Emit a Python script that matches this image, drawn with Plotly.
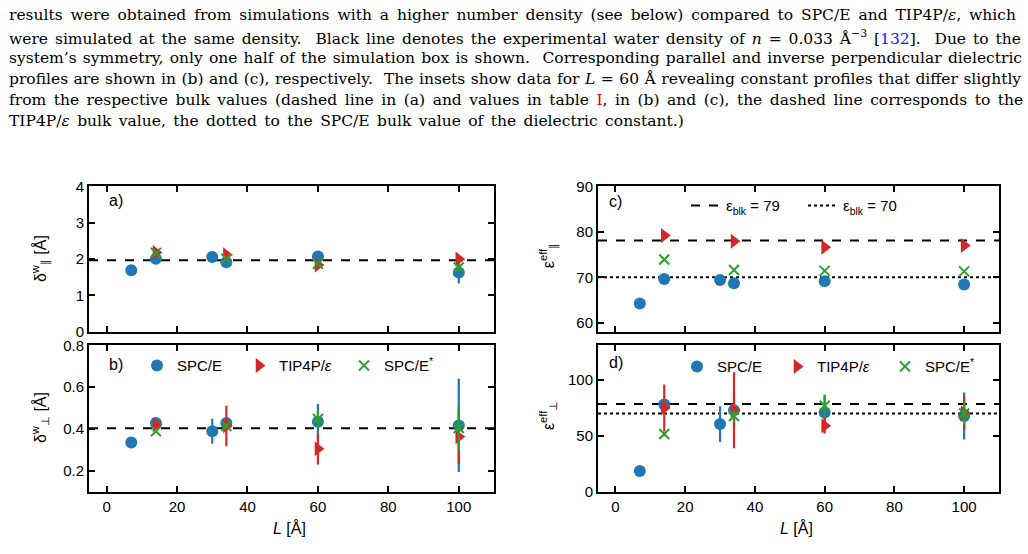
import plotly.graph_objects as go

# ---------------- data ----------------
L_spce = [7, 14, 30, 34, 60, 100]
L_tip = [14, 34, 60, 100]
L_star = [14, 34, 60, 100]

# (a) delta_par
a_spce = [1.69, 2.01, 2.06, 1.91, 2.07, 1.63]
a_spce_err = [0.03, 0.03, 0.03, 0.03, 0.03, 0.30]
a_tip = [2.18, 2.12, 1.84, 2.00]
a_tip_err = [0.03, 0.03, 0.03, 0.03]
a_star = [2.17, 2.01, 1.87, 1.77]
a_star_err = [0.03, 0.03, 0.03, 0.03]
a_ref = 1.97

# (b) delta_perp
b_spce = [0.335, 0.429, 0.389, 0.429, 0.435, 0.417]
b_spce_err = [0.005, 0.005, 0.06, 0.01, 0.085, 0.223]
b_tip = [0.42, 0.414, 0.305, 0.363]
b_tip_err = [0.005, 0.097, 0.075, 0.13]
b_star = [0.389, 0.414, 0.448, 0.405]
b_star_err = [0.005, 0.01, 0.04, 0.108]
b_ref = 0.403

# (c) eps_par
c_spce = [64.2, 69.6, 69.4, 68.7, 69.1, 68.4]
c_tip = [79.2, 77.9, 76.6, 77.0]
c_star = [73.9, 71.6, 71.4, 71.3]
c_ref_tip = 78.1
c_ref_spce = 70.0

# (d) eps_perp
d_spce = [18.6, 78.0, 60.6, 73.0, 71.0, 67.8]
d_spce_err = [1, 2, 16, 15, 15, 21]
d_tip = [75.0, 73.0, 59.0, 70.7]
d_tip_err = [21, 34, 7, 15]
d_star = [51.6, 67.8, 77.0, 70.0]
d_star_err = [2, 5, 10, 10]
d_ref_tip = 78.5
d_ref_spce = 70.0

series_names = ["SPC/E", "TIP4P/<i>ε</i>", "SPC/E<sup>*</sup>"]
legend_c_names = ["ε<sub>blk</sub> = 79", "ε<sub>blk</sub> = 70"]

BLUE = "#1f77b4"
RED = "#d62728"
GREEN = "#2ca02c"
SANS = "Liberation Sans, Arial, sans-serif"
SERIF = "DejaVu Serif, serif"

W, H = 1028, 554
X_RANGE = [-5, 110]


def px(x):
    return x / W


def py(y):
    return 1 - y / H


fig = go.Figure()


def hline(xa, ya, yv, dash, name=None, legend=None, show=False):
    fig.add_trace(go.Scatter(
        x=X_RANGE, y=[yv, yv], mode="lines", xaxis=xa, yaxis=ya,
        line=dict(color="black", width=2, dash=dash),
        name=name, showlegend=show, legend=legend, hoverinfo="skip"))


def series(xa, ya, xs, ys, errs, kind, show=False, legend=None):
    if kind == 0:
        marker = dict(symbol="circle", size=12, color=BLUE)
        col = BLUE
    elif kind == 1:
        marker = dict(symbol="triangle-right", size=13, color=RED)
        col = RED
    else:
        marker = dict(symbol="x-thin-open", size=10, color=GREEN,
                      line=dict(color=GREEN, width=2))
        col = GREEN
    err = None
    if errs is not None:
        err = dict(type="data", array=errs, visible=True, thickness=2.2,
                   width=0, color=col)
    fig.add_trace(go.Scatter(
        x=xs, y=ys, mode="markers", xaxis=xa, yaxis=ya, marker=marker,
        error_y=err, name=series_names[kind], showlegend=show,
        legend=legend))


# (a)
hline("x", "y", a_ref, "dash")
series("x", "y", L_spce, a_spce, a_spce_err, 0)
series("x", "y", L_tip, a_tip, a_tip_err, 1)
series("x", "y", L_star, a_star, a_star_err, 2)

# (b)
hline("x2", "y2", b_ref, "dash")
series("x2", "y2", L_spce, b_spce, b_spce_err, 0, True, "legend")
series("x2", "y2", L_tip, b_tip, b_tip_err, 1, True, "legend4")
series("x2", "y2", L_star, b_star, b_star_err, 2, True, "legend5")

# (c)
hline("x3", "y3", c_ref_tip, "dash", legend_c_names[0], "legend3", True)
hline("x3", "y3", c_ref_spce, "dot", legend_c_names[1], "legend3", True)
series("x3", "y3", L_spce, c_spce, None, 0)
series("x3", "y3", L_tip, c_tip, None, 1)
series("x3", "y3", L_star, c_star, None, 2)

# (d)
hline("x4", "y4", d_ref_tip, "dash")
hline("x4", "y4", d_ref_spce, "dot")
series("x4", "y4", L_spce, d_spce, d_spce_err, 0, True, "legend2")
series("x4", "y4", L_tip, d_tip, d_tip_err, 1, True, "legend6")
series("x4", "y4", L_star, d_star, d_star_err, 2, True, "legend7")

# ---------------- axes ----------------
axis_common = dict(showline=True, linecolor="black", linewidth=2,
                   mirror="ticks", ticks="inside", ticklen=6, tickwidth=1.5,
                   tickcolor="black", showgrid=False, zeroline=False,
                   tickfont=dict(family=SANS, size=15, color="black"))

dom_left = [px(89), px(494)]
dom_right = [px(598), px(999)]
dom_top = [py(333), py(183)]
dom_bot = [py(498), py(347)]

fig.update_layout(
    xaxis=dict(axis_common, domain=dom_left, range=X_RANGE, dtick=20,
               tick0=0, showticklabels=False, anchor="y"),
    yaxis=dict(axis_common, domain=dom_top, range=[0, 4], dtick=1,
               anchor="x"),
    xaxis2=dict(axis_common, domain=dom_left, range=X_RANGE, dtick=20,
                tick0=0, anchor="y2"),
    yaxis2=dict(axis_common, domain=dom_bot, range=[0.1, 0.8], dtick=0.2,
                tick0=0.2, tickformat=".1f", anchor="x2"),
    xaxis3=dict(axis_common, domain=dom_right, range=X_RANGE, dtick=20,
                tick0=0, showticklabels=False, anchor="y3"),
    yaxis3=dict(axis_common, domain=dom_top, range=[58, 90], dtick=10,
                tick0=60, anchor="x3"),
    xaxis4=dict(axis_common, domain=dom_right, range=X_RANGE, dtick=20,
                tick0=0, anchor="y4"),
    yaxis4=dict(axis_common, domain=dom_bot, range=[0, 131], dtick=50,
                tick0=0, anchor="x4"),
)

leg_common = dict(orientation="h", bgcolor="rgba(0,0,0,0)", borderwidth=0,
                  font=dict(family=SANS, size=15, color="black"),
                  xanchor="left", yanchor="middle", itemclick=False)
fig.update_layout(
    legend=dict(leg_common, x=px(137), y=py(368)),
    legend4=dict(leg_common, x=px(239), y=py(368)),
    legend5=dict(leg_common, x=px(344), y=py(368)),
    legend2=dict(leg_common, x=px(677), y=py(369)),
    legend6=dict(leg_common, x=px(777), y=py(369)),
    legend7=dict(leg_common, x=px(885), y=py(369)),
    legend3=dict(leg_common, x=px(686), y=py(203), entrywidth=72),
)

# ---------------- annotations ----------------
ann = []


def txt(x, y, s, size=16, xanchor="left", angle=0, family=SANS):
    ann.append(dict(x=px(x), y=py(y), xref="paper", yref="paper", text=s,
                    showarrow=False, xanchor=xanchor, yanchor="middle",
                    textangle=angle,
                    font=dict(family=family, size=size, color="black")))


txt(107, 198, "a)")
txt(107, 367, "b)")
txt(607, 199, "c)")
txt(607, 365, "d)")

txt(40, 258, "δ<sup>w</sup><sub>∥</sub> [Å]", 16, "center", -90)
txt(40, 422, "δ<sup>w</sup><sub>⊥</sub> [Å]", 16, "center", -90)
txt(548, 255, "ε<sup>eff</sup><sub>∥</sub>", 16, "center", -90)
txt(548, 420, "ε<sup>eff</sup><sub>⊥</sub>", 16, "center", -90)

txt(289, 535, "<i>L</i> [Å]", 16, "center")
txt(796, 535, "<i>L</i> [Å]", 16, "center")

caption_lines = [
    "results were obtained from simulations with a higher number density (see below) compared to SPC/E and TIP4P/<i>ε</i>, which",
    "were simulated at the same density.  Black line denotes the experimental water density of <i>n</i> = 0.033 Å<sup>−3</sup> [<span style='color:#1a1aff'>132</span>].  Due to the",
    "system’s symmetry, only one half of the simulation box is shown.  Corresponding parallel and inverse perpendicular dielectric",
    "profiles are shown in (b) and (c), respectively.  The insets show data for <i>L</i> = 60 Å revealing constant profiles that differ slightly",
    "from the respective bulk values (dashed line in (a) and values in table <span style='color:#d00000'>I</span>, in (b) and (c), the dashed line corresponds to the",
    "TIP4P/<i>ε</i> bulk value, the dotted to the SPC/E bulk value of the dielectric constant.)",
]
word_spacing = [3.0, 2.0, 1.3, 0.6, 2.6, 2.5]
line_y = [6, 29, 51, 72, 94, 116]
for s, ws, y in zip(caption_lines, word_spacing, line_y):
    txt(7, y, "<span style='word-spacing:%.1fpx'>%s</span>" % (ws, s),
        15.5, "left", 0, SERIF)

fig.update_layout(
    annotations=ann,
    width=W, height=H, margin=dict(l=0, r=0, t=0, b=0),
    paper_bgcolor="white", plot_bgcolor="white",
    showlegend=True,
)

fig.write_html("out.html")
